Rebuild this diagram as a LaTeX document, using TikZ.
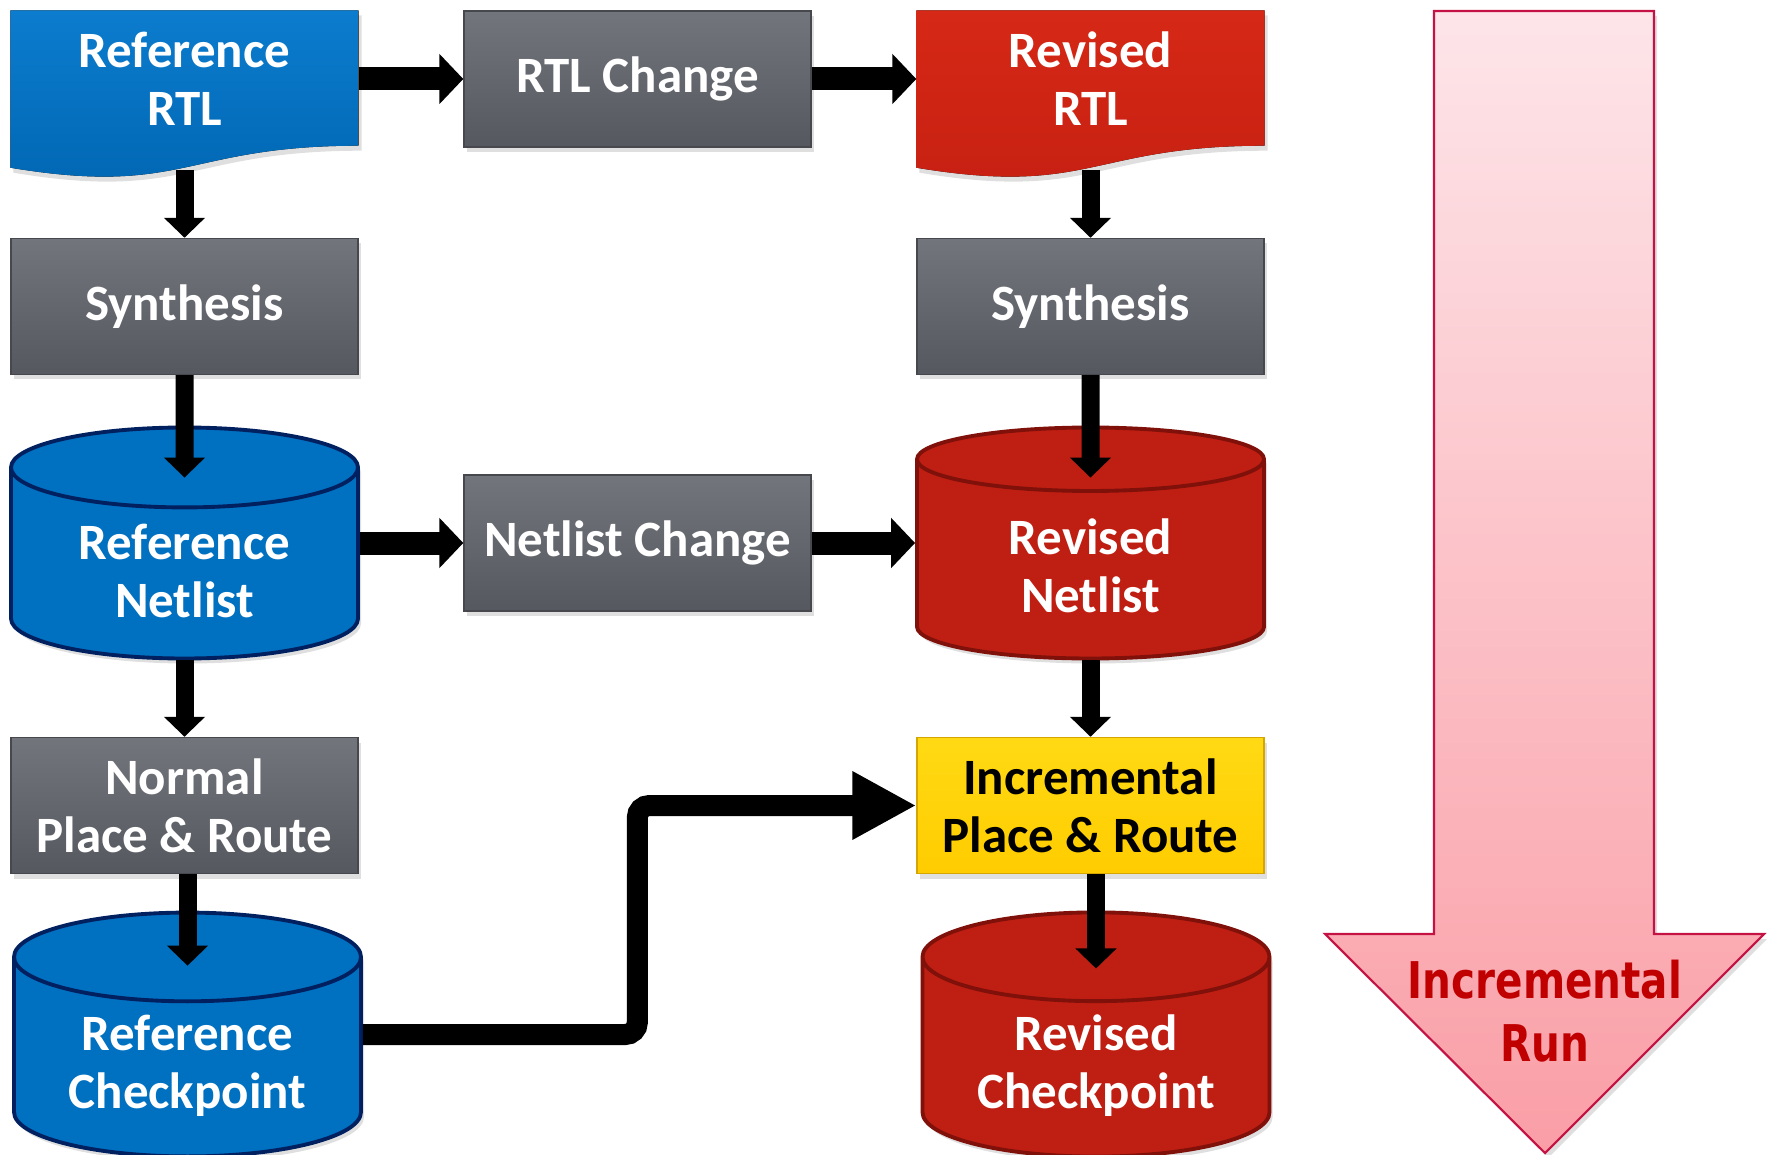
\documentclass[tikz,border=0pt]{standalone}
\usepackage{fontspec}
\setmainfont{Carlito}
\newfontfamily\runfont[FakeStretch=0.8]{DejaVu Sans}
\usepackage{tikz}
\usetikzlibrary{positioning}
\usetikzlibrary{arrows.meta}
\usetikzlibrary{shapes.geometric}
\usetikzlibrary{shadows}
\usetikzlibrary{backgrounds}
\definecolor{refblue}{RGB}{0,112,192}
\definecolor{refbluetop}{RGB}{12,124,206}
\definecolor{refbluebot}{RGB}{0,102,178}
\definecolor{navyedge}{RGB}{0,32,96}
\definecolor{revred}{RGB}{191,30,18}
\definecolor{revredtop}{RGB}{214,40,22}
\definecolor{revredbot}{RGB}{198,32,18}
\definecolor{rededge}{RGB}{128,16,10}
\definecolor{graytop}{RGB}{114,117,124}
\definecolor{graybot}{RGB}{86,88,95}
\definecolor{grayedge}{RGB}{70,72,78}
\definecolor{incyellow}{RGB}{255,204,0}
\definecolor{incyellowtop}{RGB}{255,218,20}
\definecolor{yellowedge}{RGB}{214,166,0}
\definecolor{runred}{RGB}{192,0,0}
\definecolor{pinktop}{RGB}{253,229,233}
\definecolor{pinkbot}{RGB}{250,158,166}
\definecolor{pinkedge}{RGB}{196,18,68}

\tikzset{
  boxfont/.style={font=\fontsize{14.5}{16.5}\selectfont\bfseries},
  softshadow/.style={drop shadow={shadow xshift=0.03cm,shadow yshift=-0.05cm,opacity=0.25}},
  stepbox/.style={rectangle,minimum width=3.47cm,minimum height=1.36cm,align=center,
    text=white,boxfont,top color=graytop,bottom color=graybot,draw=grayedge,line width=0.4pt,softshadow},
  docbox/.style={rectangle,minimum width=3.47cm,minimum height=1.36cm,align=center,
    text=white,boxfont},
  incbox/.style={stepbox,top color=incyellowtop,bottom color=incyellow,draw=yellowedge,text=black},
  dbase/.style={cylinder,shape border rotate=90,shape aspect=0.34,minimum width=3.47cm,
    minimum height=2.31cm,anchor=shape center,align=center,text=white,boxfont,line width=1.1pt,softshadow},
  hflow/.style={line width=0.23cm,-{Triangle[width=0.49cm,length=0.24cm]}},
  vflow/.style={line width=0.18cm,-{Triangle[width=0.40cm,length=0.20cm]}},
  bigflow/.style={line width=0.21cm,rounded corners=0.12cm,-{Triangle[width=0.64cm,length=0.64cm]}},
}

% wavy document outline drawn behind a docbox
\newcommand{\wavedoc}[3]{%
  \begin{scope}[on background layer]
    \fill[top color=#2,bottom color=#3,softshadow] (#1.north west) -- (#1.north east)
      -- ([yshift=0.02cm]#1.south east)
      .. controls ([yshift=0.02cm]#1.south) and ([yshift=-0.49cm]#1.south) .. ([yshift=-0.20cm]#1.south west)
      -- cycle;
  \end{scope}}

\begin{document}
\begin{tikzpicture}[>=Triangle]
  \useasboundingbox (0,0) rectangle (17.73,11.54);
  %
  \node (refrtl) at (1.845,10.75) [docbox] {Reference\\RTL};
  \wavedoc{refrtl}{refbluetop}{refbluebot}
  \node (rtlchange) at (6.375,10.75) [stepbox] {RTL Change};
  \node (revrtl) at (10.905,10.75) [docbox] {Revised\\RTL};
  \wavedoc{revrtl}{revredtop}{revredbot}
  %
  \node (synref) at (1.845,8.475) [stepbox] {Synthesis};
  \node (synrev) at (10.905,8.475) [stepbox] {Synthesis};
  %
  \node (refnet) at (1.845,6.11) [dbase,fill=refblue,draw=navyedge] {Reference\\Netlist};
  \node (netchange) at (6.375,6.11) [stepbox] {Netlist Change};
  \node (revnet) at (10.905,6.11) [dbase,fill=revred,draw=rededge] {Revised\\Netlist};
  %
  \node (pnrref) at (1.845,3.485) [stepbox] {Normal\\Place \& Route};
  \node (pnrinc) at (10.905,3.485) [incbox] {Incremental\\Place \& Route};
  %
  \node (refchk) at (1.875,1.195) [dbase,fill=refblue,draw=navyedge] {Reference\\Checkpoint};
  \node (revchk) at (10.96,1.195) [dbase,fill=revred,draw=rededge] {Revised\\Checkpoint};
  %
  \draw [hflow] (refrtl) -- (rtlchange);
  \draw [hflow] (rtlchange) -- (revrtl);
  \draw [vflow] ([yshift=-0.22cm]refrtl.south) -- (synref);
  \draw [vflow] ([yshift=-0.22cm]revrtl.south) -- (synrev);
  \draw [vflow] (synref) -- ([yshift=-0.52cm]refnet.north);
  \draw [vflow] (synrev) -- ([yshift=-0.52cm]revnet.north);
  \draw [hflow] (refnet.shape center -| refnet.east) -- (netchange);
  \draw [hflow] (netchange) -- (revnet.shape center -| revnet.west);
  \draw [vflow] (refnet) -- (pnrref);
  \draw [vflow] (revnet) -- (pnrinc);
  \draw [vflow] (pnrref.south -| refchk.north) -- ([yshift=-0.55cm]refchk.north);
  \draw [vflow] (pnrinc.south -| revchk.north) -- ([yshift=-0.58cm]revchk.north);
  \draw [bigflow] (refchk.shape center -| refchk.east) -| ([xshift=-2.79cm]pnrinc.west) -- (pnrinc.west);
  %
  % incremental run arrow
  \fill [top color=pinktop,bottom color=pinkbot,draw=pinkedge,line width=0.6pt,softshadow]
    (14.34,11.43) -- (16.54,11.43) -- (16.54,2.20) -- (17.64,2.20) -- (15.45,0.01)
    -- (13.25,2.20) -- (14.34,2.20) -- cycle;
  \node (run) at (15.45,1.425) [align=center,text=runred,font=\runfont\fontsize{14.4}{17.9}\selectfont\bfseries] {Incremental\\Run};
\end{tikzpicture}
\end{document}
